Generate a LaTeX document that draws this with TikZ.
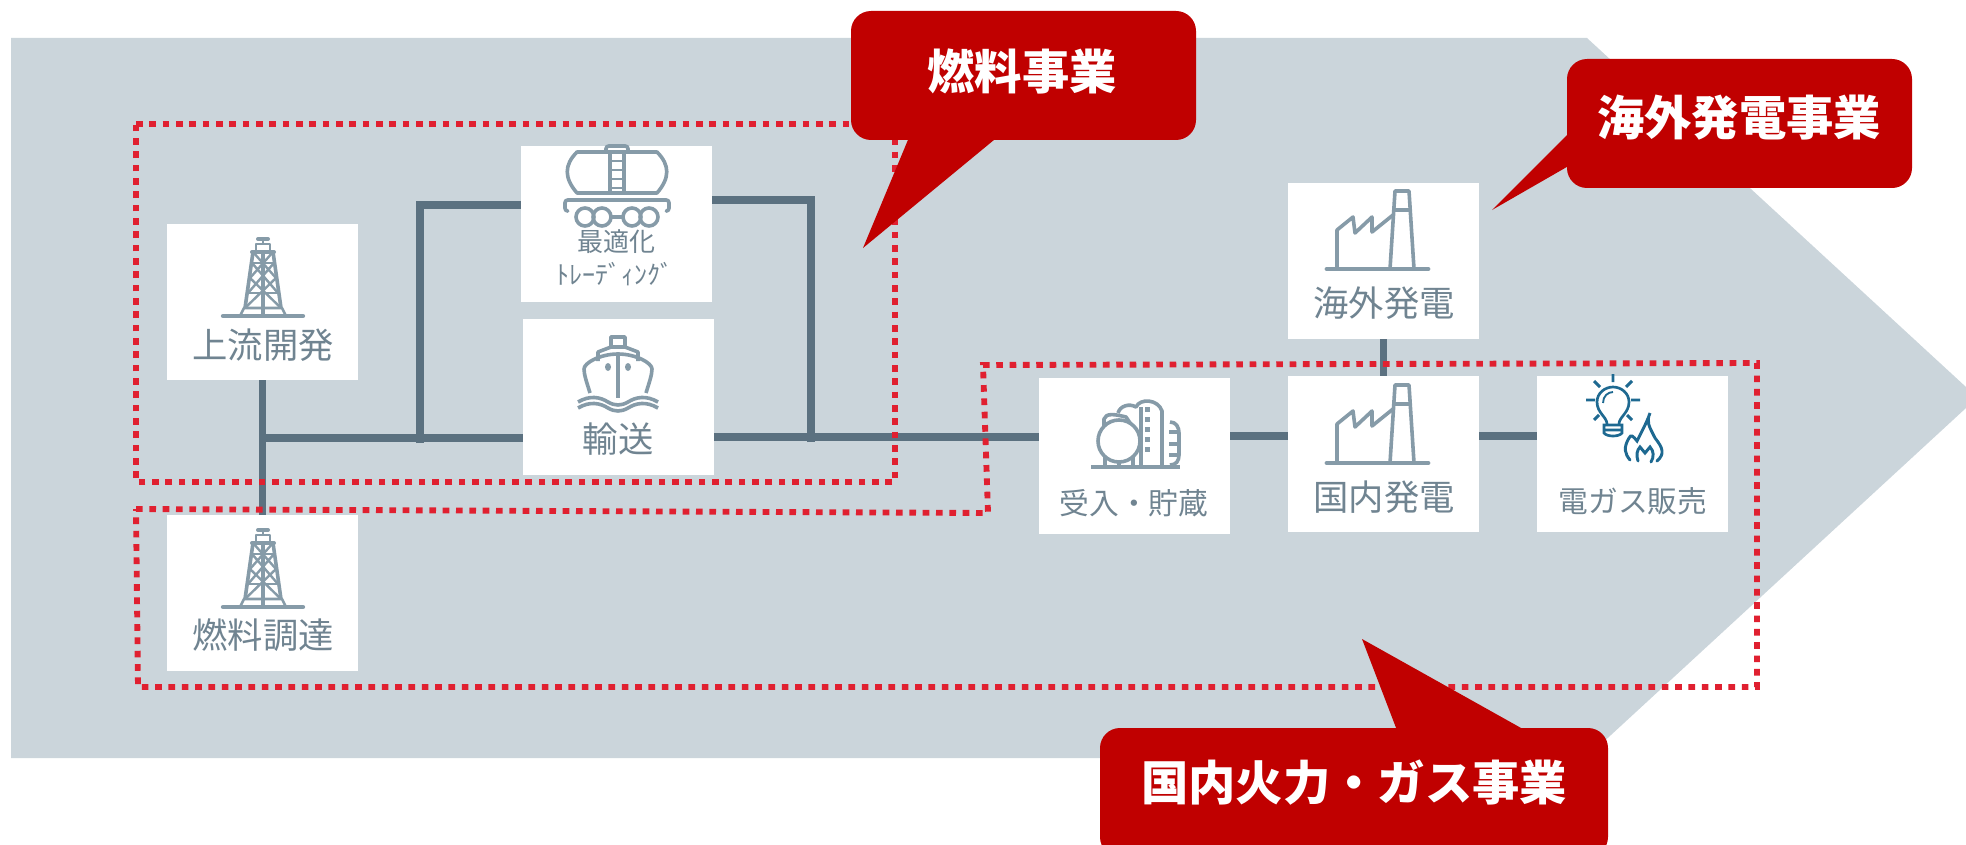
\documentclass[tikz,border=0pt]{standalone}
\usepackage{fontspec}
\setmainfont{Noto Sans CJK JP}
\definecolor{bgarrow}{RGB}{203,213,219}
\definecolor{callred}{RGB}{192,0,0}
\definecolor{dotred}{RGB}{224,32,48}
\definecolor{pipec}{RGB}{91,113,128}
\definecolor{iconc}{RGB}{134,155,168}
\definecolor{labelc}{RGB}{112,132,145}
\definecolor{bulbc}{RGB}{30,105,145}
\tikzset{
  panel/.style={fill=white,minimum width=143.25pt,minimum height=117pt,inner sep=0pt},
  pipe/.style={draw=pipec,line width=5.5pt},
  dotbox/.style={draw=dotred,line width=4.4pt,dash pattern=on 5pt off 5pt},
  callbody/.style={fill=callred,rounded corners=15pt,inner sep=0pt},
  calltext/.style={text=white,font=\fontsize{35.5}{40}\selectfont\bfseries,inner sep=0pt},
  plabel/.style={text=labelc,font=\fontsize{26.5}{30}\selectfont,inner sep=0pt},
  slabel/.style={text=labelc,font=\fontsize{22.3}{26}\selectfont,inner sep=0pt},
  tlabel/.style={text=labelc,font=\fontsize{19.5}{24}\selectfont,inner sep=0pt},
  icon/.style={draw=iconc,line width=2.7pt,line join=round},
  pics/derrick/.style={code={
    \draw [icon,line width=3.2pt,line cap=round] (-40,0) -- (40,0);
    \draw [icon,line width=2pt] (-23,0) -- (-19,-8) -- (19,-8) -- (23,0);
    \draw [icon] (-10,-64) -- (-18,-8) (10,-64) -- (18,-8) (0,-64) -- (0,0);
    \draw [icon,line width=2pt] (-10,-53) -- (11,-53) (-16,-23) -- (16,-23);
    \draw [icon,line width=1.8pt] (-11,-53) -- (15,-23) (11,-53) -- (-15,-23) (-13,-38) -- (18,-8) (13,-38) -- (-18,-8) (-10,-64) -- (13,-38) (10,-64) -- (-13,-38);
    \draw [icon,line width=3pt,line cap=round] (-11,-64) -- (11,-64);
    \draw [icon,line width=2pt] (-7,-64) -- (-7,-72) -- (7,-72) -- (7,-64);
    \draw [icon,line width=3pt,line cap=round] (-5,-77) -- (5,-77);
    \draw [icon,line width=2pt] (0,-77) -- (0,-72);
  }},
  pics/tankcar/.style={code={
    \draw [icon] (-40,0) .. controls (-53,-15) and (-53,-28) .. (-40,-41) -- (40,-41) .. controls (53,-28) and (53,-15) .. (40,0) -- cycle;
    \draw [icon] (-7,-41) rectangle (7,0);
    \foreach \ry in {-32,-23,-14,-5} \draw [icon,line width=2pt] (-7,\ry) -- (7,\ry);
    \draw [icon,rounded corners=2pt] (-11,-41) -- (-11,-47) -- (11,-47) -- (11,-41);
    \draw [icon,rounded corners=2pt] (-50,18) -- (-52,18) -- (-52,7) -- (52,7) -- (52,18) -- (50,18);
    \foreach \wx in {-32,-15,15,32} \draw [icon] (\wx,24) circle (9);
    \draw [icon] (-6,24) -- (6,24);
  }},
  pics/shipicon/.style={code={
    \draw [icon] (-7,-58) rectangle (7,-48);
    \draw [icon] (-20,-34) -- (-20,-43) -- (-7,-48) -- (7,-48) -- (20,-43) -- (20,-34);
    \draw [icon] (-28,-2) .. controls (-31,-12) and (-34,-20) .. (-34,-26) .. controls (-34,-32) and (-18,-41) .. (0,-41) .. controls (18,-41) and (34,-32) .. (34,-26) .. controls (34,-20) and (31,-12) .. (28,-2);
    \draw [icon] (0,-41) -- (0,3);
    \fill [iconc] (-10,-28) ellipse (3 and 4) (10,-28) ellipse (3 and 4);
    \foreach \wy in {7,13} \draw [icon] (-40,\wy) .. controls (-28,\wy-7) and (-18,\wy-5) .. (-10,\wy) .. controls (-3,\wy+4) and (3,\wy+4) .. (10,\wy) .. controls (18,\wy-5) and (28,\wy-7) .. (40,\wy);
  }},
  pics/factory/.style={code={
    \draw [icon,line width=3.6pt,line cap=round] (-57,0) -- (44,0);
    \draw [icon] (-47,0) -- (-47,-39) -- (-31,-52) -- (-29,-36) -- (-12,-52) -- (-12,-37) -- (9,-54);
    \draw [icon] (6,0) -- (11,-78) -- (25,-78) -- (30,0);
    \draw [icon] (9,-59) -- (27,-59);
  }},
  pics/tanks/.style={code={
    \draw [icon,line width=3.6pt] (-43,0) -- (46,0);
    \draw [icon] (-15,-26) circle (21);
    \draw [icon] (-30,-41) -- (-30,-48) .. controls (-28,-54) and (-20,-53) .. (-8,-50) -- (-4,-44);
    \draw [icon] (-16,-54) .. controls (-14,-61) and (-5,-64) .. (2,-60) .. controls (6,-69) and (24,-68) .. (28,-56) -- (28,0);
    \draw [icon] (7,-60) -- (7,-40) (7,-40) -- (7,0);
    \foreach \dy in {-58,-48,-38,-28,-18} \fill [iconc] (11,\dy-2.5) rectangle (16,\dy+2.5);
    \draw [icon] (36,-45) .. controls (42,-45) and (45,-40) .. (45,-34) -- (45,-12) .. controls (45,-6) and (42,-2) .. (36,-2);
    \foreach \dy in {-35,-23,-12} \draw [icon] (35,\dy) -- (45,\dy);
    \draw [icon] (-29,-10) -- (-29,0) (-1,-10) -- (-1,0) (-15,-5) -- (-15,0);
  }},
  pics/bulbflame/.style={code={
    \draw [draw=bulbc,line width=2pt] (-6,16) .. controls (-6,9) and (-16,5) .. (-16,-6) .. controls (-16,-15) and (-8,-21) .. (0,-21) .. controls (8,-21) and (16,-15) .. (16,-6) .. controls (16,5) and (6,9) .. (6,16);
    \draw [draw=bulbc,line width=2pt] (-9,17) -- (9,17) -- (9,25) .. controls (6,29) and (-6,29) .. (-9,25) -- cycle (-9,22) -- (9,22);
    \draw [draw=bulbc,line width=1.4pt] (-10,-5) .. controls (-10,-12) and (-5,-16) .. (0,-16);
    \draw [draw=bulbc,line width=2.2pt] (0,-34) -- (0,-26) (-19,-27) -- (-13,-21) (19,-27) -- (13,-21) (-27,-8) -- (-18,-8) (27,-8) -- (18,-8) (-19,12) -- (-14,7) (19,12) -- (14,7);
    \draw [draw=bulbc,line width=2.2pt,line cap=round] (17,52) .. controls (12,46) and (10,40) .. (16,30) .. controls (18,26) and (20,28) .. (24,33) .. controls (28,25) and (34,14) .. (37,5) .. controls (33,14) and (36,18) .. (42,30) .. controls (50,40) and (52,46) .. (44,53);
    \draw [draw=bulbc,line width=2.2pt,line cap=round] (25,53) .. controls (23,47) and (24,42) .. (27,39) -- (32,45) -- (37,39) .. controls (41,43) and (41,49) .. (38,54);
  }}
}
\begin{document}
\begin{tikzpicture}[x=0.75pt,y=0.75pt,yscale=-1,xscale=1]
\clip (0,0) rectangle (1966,845);

%Shape: Arrow
\fill [bgarrow] (11,38) -- (1587,38) -- (1966,387) -- (1966,408) -- (1586,758) -- (11,758) -- cycle;

% Boxes
\node [panel] (up) at (262.5,302) {};
\node [panel] (buy) at (262.5,593) {};
\node [panel] (trade) at (616.5,224) {};
\node [panel] (ship) at (618.5,397) {};
\node [panel] (over) at (1383.5,261) {};
\node [panel] (store) at (1134.5,456) {};
\node [panel] (home) at (1383.5,454) {};
\node [panel] (sales) at (1632.5,454) {};

% Junctions
\coordinate (jup) at (262.5,438);
\coordinate (jleft) at (420,443);
\coordinate (jright) at (811,442);
\coordinate (jtop) at (420,205);
\coordinate (jrtop) at (811,200);
\coordinate (jship) at (811,437);
\coordinate (jmain) at (1039,436);

%Straight Lines
\draw [pipe] (up.south) -- (buy.north);
\draw [pipe] (jup) -- (ship.west |- jup);
\draw [pipe] (jleft) -- (jtop) -- (trade.west |- jtop);
\draw [pipe] (jright) -- (jrtop) -- (trade.east |- jrtop);
\draw [pipe] (ship.east |- jship) -- (store.west |- jship);
\draw [pipe] (store.east |- jmain) -- (home.west |- jmain);
\draw [pipe] (home.east |- jmain) -- (sales.west |- jmain);
\draw [pipe] (over.south) -- (home.north);

% Icons
\pic [transform shape] at (263,316) {derrick};
\pic [transform shape] at (263,607) {derrick};
\pic [transform shape] at (617,193) {tankcar};
\pic [transform shape] at (618,395) {shipicon};
\pic [transform shape] at (1384,269) {factory};
\pic [transform shape] at (1384,463) {factory};
\pic [transform shape] at (1134,467) {tanks};
\pic [transform shape] at (1613,408) {bulbflame};

% Text Node
\node [plabel] (uplabel) at (263,345) {上流開発};
\node [plabel] (buylabel) at (263,635) {燃料調達};
\node [tlabel] (tradelabel) at (616,242) {最適化};
\node [tlabel] (tradelabelb) at (615,274) {ﾄﾚｰﾃﾞｨﾝｸﾞ};
\node [plabel] (shiplabel) at (618,439) {輸送};
\node [plabel] (overlabel) at (1384,303) {海外発電};
\node [plabel] (homelabel) at (1384,497) {国内発電};
\node [slabel] (storelabel) at (1134,503) {受入・貯蔵};
\node [slabel] (saleslabel) at (1633,501) {電ガス販売};

%Dotted outlines
\draw [dotbox] (136,124) -- (895,124) -- (895,482) -- (136,482) -- cycle;
\draw [dotbox] (136,509) -- (988,513) -- (983,365) -- (1757,363) -- (1757,687) -- (138,687) -- cycle;

%Callouts
\fill [callred] (910,135) -- (863,248) -- (1000,135) -- cycle;
\node [callbody,minimum width=258.75pt,minimum height=96.75pt] (fuelbody) at (1023.5,75.5) {};
\node [calltext] (fueltext) at (1022,71) {燃料事業};
\fill [callred] (1572,130) -- (1492,210) -- (1572,164) -- cycle;
\node [callbody,minimum width=258.75pt,minimum height=96.75pt] (overbody) at (1739.5,123.5) {};
\node [calltext] (overtext) at (1739,118) {海外発電事業};
\fill [callred] (1398,733) -- (1362,639) -- (1530,733) -- cycle;
\node [callbody,minimum width=381pt,minimum height=96.75pt] (homebody) at (1354,792.5) {};
\node [calltext] (hometext) at (1354,783) {国内火力・ガス事業};
\end{tikzpicture}
\end{document}
